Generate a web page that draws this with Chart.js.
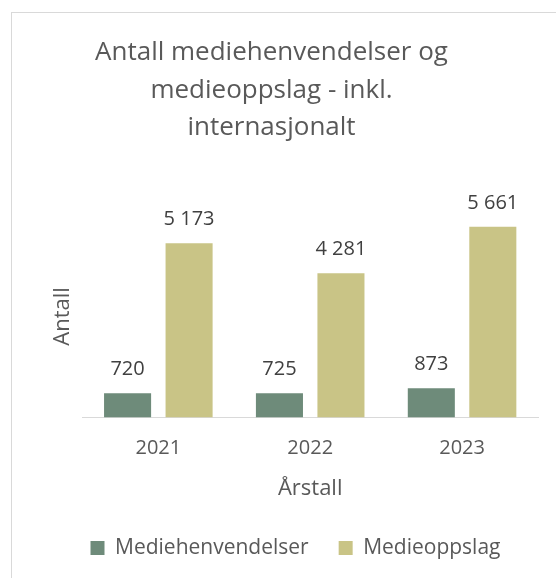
<!DOCTYPE html>
<html>
<head>
<meta charset="utf-8">
<script src="https://cdn.jsdelivr.net/npm/chart.js@4"></script>
<style>
  body { margin: 0; overflow: hidden; background: #fff; }
  #frame { position: absolute; left: 11px; top: 12px; width: 620px; height: 640px; border: 1px solid #d9d9d9; }
  #chart { position: absolute; left: 0; top: 0; }
</style>
</head>
<body>
<div id="frame"></div>
<canvas id="chart" width="556" height="578"></canvas>
<script>
// values
const years = ['2021', '2022', '2023'];
const henvendelser = [720, 725, 873];
const oppslag = [5173, 4281, 5661];

const FONT = '"Open Sans", sans-serif';

// write 5173 as "5 173"
function fmt(v) {
    return String(v).replace(/\B(?=(\d{3})+(?!\d))/g, ' ');
}

// small plugin to draw value labels over the bars
const valueLabels = {
    id: 'valueLabels',
    afterDatasetsDraw(chart) {
        const ctx = chart.ctx;
        ctx.save();
        ctx.font = '20px ' + FONT;
        ctx.fillStyle = '#404040';
        ctx.textAlign = 'center';
        ctx.textBaseline = 'alphabetic';
        chart.data.datasets.forEach((ds, i) => {
            chart.getDatasetMeta(i).data.forEach((bar, j) => {
                ctx.fillText(fmt(ds.data[j]), bar.x, bar.y - 18);
            });
        });
        ctx.restore();
    }
};

// the legend sits a bit right of the title in the original
const legendShift = {
    id: 'legendShift',
    afterLayout(chart) {
        chart.legend.left += 24;
        chart.legend.right += 24;
    }
};

var ctx = document.getElementById('chart').getContext('2d');
var myChart = new Chart(ctx, {
    type: 'bar',
    data: {
        labels: years,
        datasets: [{
            label: 'Mediehenvendelser',
            data: henvendelser,
            backgroundColor: '#6e8b7a'
        }, {
            label: 'Medieoppslag',
            data: oppslag,
            backgroundColor: '#c9c486'
        }]
    },
    options: {
        responsive: false,
        animation: false,
        categoryPercentage: 0.81,
        barPercentage: 0.765,
        layout: { padding: { left: 5, right: 18, top: 34, bottom: 9.5 } },
        plugins: {
            title: {
                display: true,
                text: ['Antall mediehenvendelser og', 'medieoppslag - inkl.', 'internasjonalt'],
                color: '#595959',
                font: { family: FONT, size: 26, weight: 'normal', lineHeight: 1.44 },
                padding: { top: 0, bottom: 69 }
            },
            legend: {
                position: 'bottom',
                labels: {
                    color: '#595959',
                    boxWidth: 14,
                    boxHeight: 14,
                    padding: 30,
                    font: { family: FONT, size: 21 }
                }
            },
            tooltip: { enabled: false }
        },
        scales: {
            x: {
                grid: { display: false, drawTicks: false },
                border: { color: '#d9d9d9' },
                ticks: { color: '#595959', padding: 18, font: { family: FONT, size: 20, lineHeight: 1.25 } },
                title: { display: true, text: 'Årstall', color: '#595959', padding: { top: -2.8, bottom: 5.3 }, font: { family: FONT, size: 22 } }
            },
            y: {
                min: 0,
                max: 6000,
                grid: { display: false, drawTicks: false },
                border: { display: false },
                ticks: { display: false },
                title: { display: true, text: 'Antall', color: '#595959', padding: { top: 45, bottom: 6 }, font: { family: FONT, size: 22 } }
            }
        }
    },
    plugins: [valueLabels, legendShift]
});
</script>
</body>
</html>
